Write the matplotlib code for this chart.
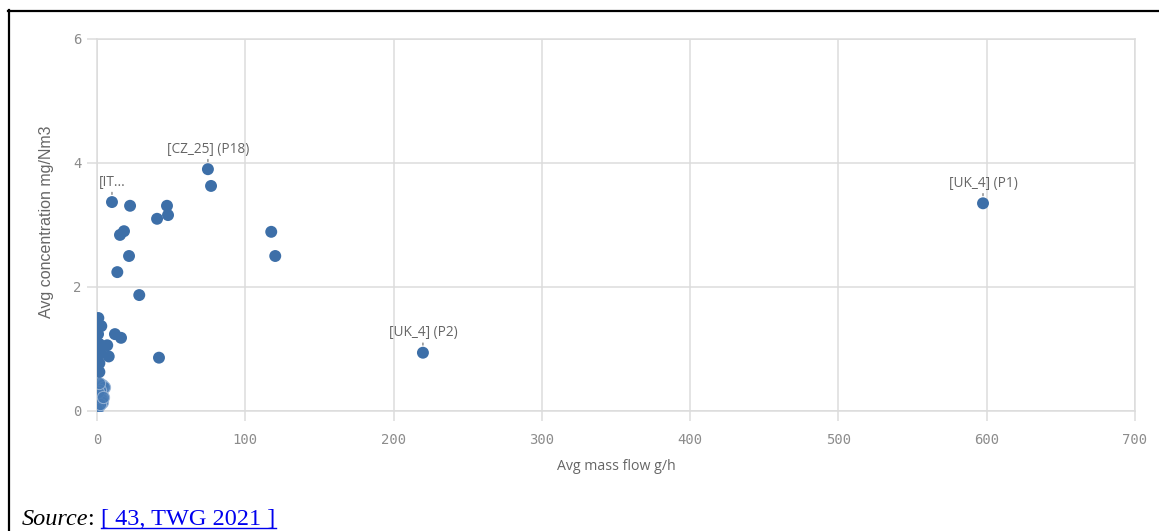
import matplotlib
matplotlib.use("Agg")
import matplotlib.pyplot as plt
from matplotlib.lines import Line2D

# Avg mass flow (g/h) and avg concentration (mg/Nm3)
massFlow = [597.5, 219.8, 74.8, 76.9, 10.1, 22.3, 40.5, 47.2, 47.9, 18.2,
            15.5, 21.6, 13.7, 28.5, 117.5, 120.2, 41.8, 12.1, 16.2, 6.9,
            7.9, 0.9, 2.9, 0.7, 1.6, 2.5, 1.6, 1.6]
concentration = [3.35, 0.94, 3.90, 3.63, 3.37, 3.31, 3.10, 3.31, 3.16, 2.90,
                 2.84, 2.50, 2.24, 1.87, 2.89, 2.50, 0.86, 1.24, 1.18, 1.06,
                 0.88, 1.50, 1.37, 1.24, 1.08, 0.93, 0.77, 0.63]
# points stacked near the origin (overlapping, with light outlines)
nearZeroFlow = [3.2, 4.7, 2.0, 1.0, 2.7, 3.6, 1.0, 0.3, 2.2, 0.6, 4.0, 1.5]
nearZeroConc = [0.42, 0.38, 0.34, 0.26, 0.20, 0.15, 0.08, 0.03, 0.12, 0.30, 0.22, 0.45]

labelNames = ["[UK_4] (P1)", "[UK_4] (P2)", "[CZ_25] (P18)", "[IT..."]
labelIdx = [0, 1, 2, 4]

xTicks = [0, 100, 200, 300, 400, 500, 600, 700]
yTicks = [0, 2, 4, 6]

gridCol = "#dcdcdc"
dotCol = "#3d6fa8"
textCol = "#666666"

fig = plt.figure(figsize=(11.59, 5.31), dpi=100)
W, H = 1159, 531
ax = fig.add_axes([97 / W, 1 - 411 / H, (1135 - 97) / W, (411 - 39) / H])

ax.scatter(nearZeroFlow, nearZeroConc, s=78, color="#4679b3", alpha=0.9,
           edgecolors="#9fb9d8", linewidths=0.7, zorder=3)
ax.scatter(massFlow, concentration, s=74, color=dotCol, edgecolors="none", zorder=4)

for name, i in zip(labelNames, labelIdx):
    ax.annotate(name, xy=(massFlow[i], concentration[i]), xytext=(0, 9),
                textcoords="offset points", ha="center", va="bottom",
                fontsize=9.8, color=textCol, family="Open Sans",
                arrowprops=dict(arrowstyle="-", color="#777777", lw=0.9,
                                shrinkA=0, shrinkB=5.5))

ax.set_xlim(0, 700)
ax.set_ylim(0, 6)
ax.set_xticks(xTicks)
ax.set_yticks(yTicks)
ax.grid(True, color=gridCol, lw=1.1)
ax.set_axisbelow(True)
for sp in ax.spines.values():
    sp.set_color(gridCol)
    sp.set_linewidth(1.1)
ax.tick_params(axis="both", color=gridCol, width=1.1, length=7,
               labelcolor="#8c8c8c", labelsize=10)
ax.tick_params(axis="x", pad=9)
ax.tick_params(axis="y", pad=4)
for lab in ax.get_xticklabels() + ax.get_yticklabels():
    lab.set_family("DejaVu Sans Mono")

fig.text(616 / W, 1 - 467 / H, "Avg mass flow g/h", ha="center", va="center",
         fontsize=10.2, color=textCol, family="Open Sans")
fig.text(47 / W, 1 - 222 / H, "Avg concentration mg/Nm3", ha="center",
         va="center", rotation=90, fontsize=11.5, color=textCol,
         family="Liberation Sans")

# page border (top and left)
fig.add_artist(Line2D([8 / W, 1], [1 - 10.5 / H, 1 - 10.5 / H], color="black",
                      lw=1.6, transform=fig.transFigure))
fig.add_artist(Line2D([8.5 / W, 8.5 / W], [0, 1 - 10 / H], color="black",
                      lw=1.6, transform=fig.transFigure))

# caption
baseY = 1 - 525 / H
t1 = fig.text(22 / W, baseY, "Source", fontsize=17.5, style="italic",
              family="Liberation Serif", va="baseline")
fig.canvas.draw()
r = fig.canvas.get_renderer()
x1 = t1.get_window_extent(r).x1
t2 = fig.text(x1 / W, baseY, ": ", fontsize=17.5, family="Liberation Serif",
              va="baseline")
x2 = t2.get_window_extent(r).x1
t3 = fig.text(x2 / W, baseY, "[ 43, TWG 2021 ]", fontsize=17.5, color="#0000ee",
              family="Liberation Serif", va="baseline")
bb = t3.get_window_extent(r)
uy = baseY - 2.5 / H
fig.add_artist(Line2D([bb.x0 / W, bb.x1 / W], [uy, uy], color="#0000ee",
                      lw=1.0, transform=fig.transFigure))

fig.savefig("out.png", dpi=100)
